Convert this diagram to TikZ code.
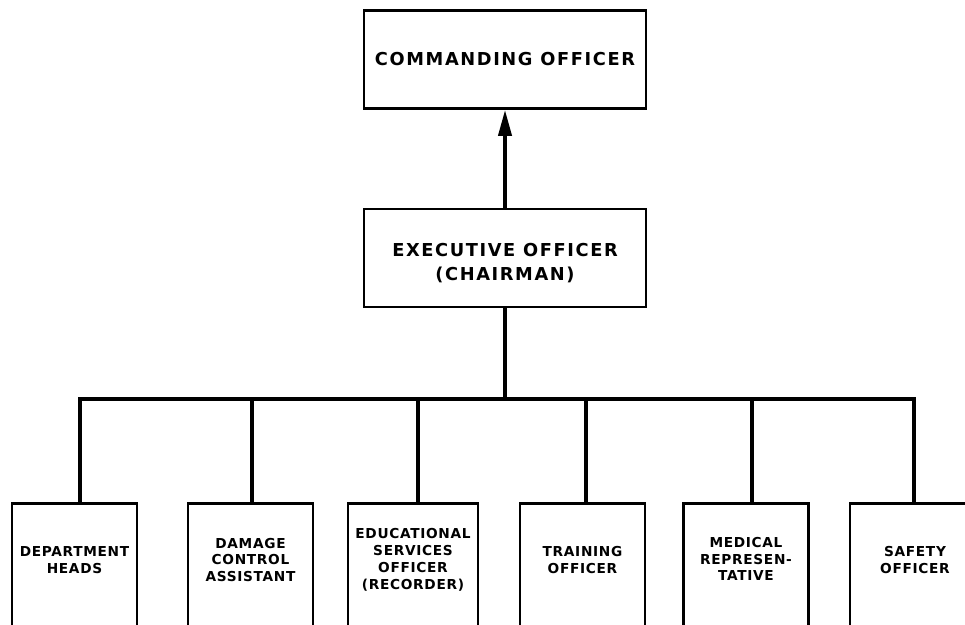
\documentclass[tikz,border=0pt]{standalone}
\usepackage{fontspec}
\usetikzlibrary{arrows.meta}
\newfontfamily\headfont[LetterSpace=9]{DejaVu Sans}
\newfontfamily\leaffont[LetterSpace=5]{DejaVu Sans}
\begin{document}
\begin{tikzpicture}[x=1pt,y=-1pt,
  box/.style={draw, line width=2.6pt, rectangle, inner sep=0pt},
  headbox/.style={box, minimum width=282pt, minimum height=98pt, align=center,
    font=\headfont\bfseries\fontsize{17.8}{24}\selectfont},
  leafbox/.style={box, minimum width=125pt, minimum height=200pt, anchor=north},
  leaftext/.style={align=center, inner sep=0pt,
    font=\leaffont\bfseries\fontsize{13.7}{16.8}\selectfont},
  link/.style={line width=3.8pt, line join=miter},
]
\clip (0,0) rectangle (965,624);
\fill[white] (0,0) rectangle (965,624);

% command chain
\node[headbox] (co) at (505,59.5) {COMMANDING OFFICER};
\node[headbox] (xo) at (505,258) {\rule{0pt}{23pt}EXECUTIVE OFFICER\\(CHAIRMAN)};

% board members (boxes run off the bottom edge)
\node[leafbox] (l1) at (74.5,502) {};
\node[leafbox] (l2) at (250.5,502) {};
\node[leafbox, minimum width=130pt] (l3) at (413,502) {};
\node[leafbox] (l4) at (582.5,502) {};
\node[leafbox] (l5) at (746,502) {};
\node[leafbox, minimum width=130pt] (l6) at (915,502) {};

\node[leaftext] (t1) at (74.5,560) {DEPARTMENT\\HEADS};
\node[leaftext] (t2) at (250.5,560) {DAMAGE\\CONTROL\\ASSISTANT};
\node[leaftext] (t3) at (413,560) {EDUCATIONAL\\SERVICES\\OFFICER\\(RECORDER)};
\node[leaftext] (t4) at (582.5,560) {TRAINING\\OFFICER};
\node[leaftext] (t5) at (746,559) {MEDICAL\\REPRESEN-\\TATIVE};
\node[leaftext] (t6) at (915,560) {SAFETY\\OFFICER};

% bus taps
\coordinate (j) at (505,399);
\coordinate (d1) at (80,399);
\coordinate (d2) at (252,399);
\coordinate (d3) at (418,399);
\coordinate (d4) at (586,399);
\coordinate (d5) at (752,399);
\coordinate (d6) at (914,399);

% connectors
\draw[link, -{Triangle[length=26pt,width=13pt]}] (xo.north) -- (co.south);
\draw[link] (xo.south) -- (j);
\draw[link] (d1 |- l1.north) -- (d1) -- (d6) -- (d6 |- l6.north);
\foreach \i in {2,...,5}{
  \draw[link] (d\i) -- (d\i |- l\i.north);
}
\end{tikzpicture}
\end{document}
